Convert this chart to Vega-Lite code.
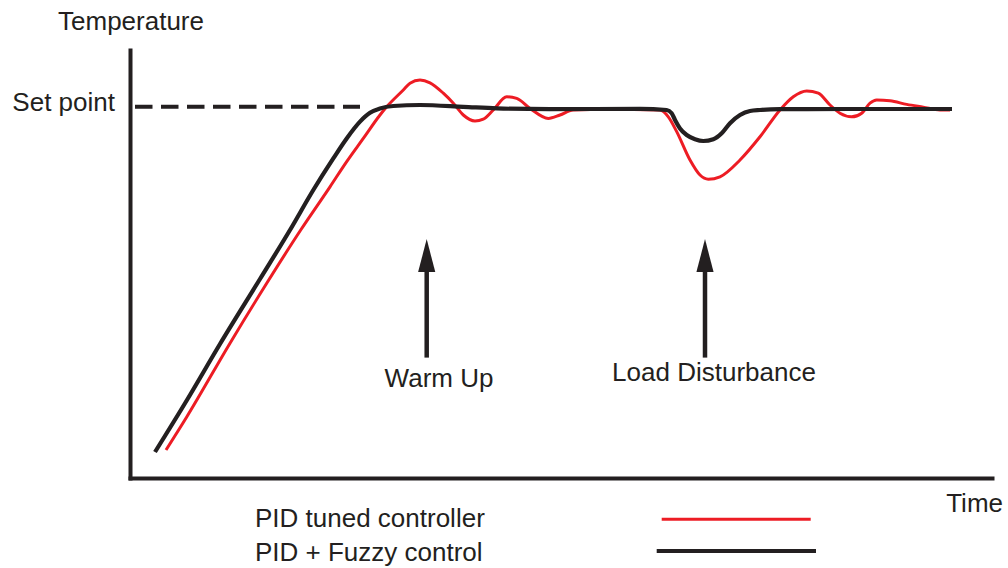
{
  "$schema": "https://vega.github.io/schema/vega-lite/v6.json",
  "width": 862,
  "height": 428,
  "autosize": {"type": "none"},
  "padding": {"left": 130, "top": 50, "right": 16, "bottom": 90},
  "background": "white",
  "config": {
    "view": {"stroke": null},
    "font": "Liberation Sans",
    "axis": {"domain": true, "domainColor": "#231f20", "domainWidth": 4, "domainCap": "square", "ticks": false, "labels": false, "grid": false}
  },
  "datasets": {
    "curves": [
      {"series": "PID tuned controller", "t": 3.6, "T": 7.0},
      {"series": "PID tuned controller", "t": 5.67, "T": 15.25},
      {"series": "PID tuned controller", "t": 10.0, "T": 33.7},
      {"series": "PID tuned controller", "t": 13.5, "T": 48.0},
      {"series": "PID tuned controller", "t": 17.07, "T": 62.0},
      {"series": "PID tuned controller", "t": 20.0, "T": 72.8},
      {"series": "PID tuned controller", "t": 21.67, "T": 79.1},
      {"series": "PID tuned controller", "t": 23.33, "T": 84.9},
      {"series": "PID tuned controller", "t": 25.0, "T": 90.75},
      {"series": "PID tuned controller", "t": 25.67, "T": 92.8},
      {"series": "PID tuned controller", "t": 27.33, "T": 97.0},
      {"series": "PID tuned controller", "t": 28.0, "T": 98.7},
      {"series": "PID tuned controller", "t": 29.0, "T": 99.5},
      {"series": "PID tuned controller", "t": 30.0, "T": 98.8},
      {"series": "PID tuned controller", "t": 31.33, "T": 96.2},
      {"series": "PID tuned controller", "t": 32.33, "T": 93.7},
      {"series": "PID tuned controller", "t": 33.33, "T": 90.75},
      {"series": "PID tuned controller", "t": 34.5, "T": 89.25},
      {"series": "PID tuned controller", "t": 35.33, "T": 89.7},
      {"series": "PID tuned controller", "t": 36.33, "T": 92.0},
      {"series": "PID tuned controller", "t": 37.67, "T": 95.3},
      {"series": "PID tuned controller", "t": 38.67, "T": 94.9},
      {"series": "PID tuned controller", "t": 40.0, "T": 92.4},
      {"series": "PID tuned controller", "t": 41.83, "T": 89.9},
      {"series": "PID tuned controller", "t": 43.0, "T": 90.75},
      {"series": "PID tuned controller", "t": 44.3, "T": 92.0},
      {"series": "PID tuned controller", "t": 47.67, "T": 92.2},
      {"series": "PID tuned controller", "t": 53.0, "T": 92.0},
      {"series": "PID tuned controller", "t": 53.83, "T": 90.3},
      {"series": "PID tuned controller", "t": 54.67, "T": 86.6},
      {"series": "PID tuned controller", "t": 56.0, "T": 79.5},
      {"series": "PID tuned controller", "t": 57.0, "T": 75.75},
      {"series": "PID tuned controller", "t": 57.83, "T": 74.7},
      {"series": "PID tuned controller", "t": 59.0, "T": 75.3},
      {"series": "PID tuned controller", "t": 61.0, "T": 79.5},
      {"series": "PID tuned controller", "t": 63.0, "T": 85.3},
      {"series": "PID tuned controller", "t": 65.0, "T": 92.0},
      {"series": "PID tuned controller", "t": 66.33, "T": 95.3},
      {"series": "PID tuned controller", "t": 67.67, "T": 96.75},
      {"series": "PID tuned controller", "t": 68.83, "T": 96.2},
      {"series": "PID tuned controller", "t": 70.0, "T": 93.25},
      {"series": "PID tuned controller", "t": 71.0, "T": 91.2},
      {"series": "PID tuned controller", "t": 72.17, "T": 90.3},
      {"series": "PID tuned controller", "t": 73.17, "T": 91.2},
      {"series": "PID tuned controller", "t": 74.0, "T": 93.7},
      {"series": "PID tuned controller", "t": 74.67, "T": 94.5},
      {"series": "PID tuned controller", "t": 76.0, "T": 94.3},
      {"series": "PID tuned controller", "t": 77.67, "T": 93.4},
      {"series": "PID tuned controller", "t": 79.33, "T": 92.7},
      {"series": "PID tuned controller", "t": 81.0, "T": 92.0},
      {"series": "PID tuned controller", "t": 82.0, "T": 92.0},
      {"series": "PID + Fuzzy control", "t": 2.5, "T": 6.5},
      {"series": "PID + Fuzzy control", "t": 5.7, "T": 19.5},
      {"series": "PID + Fuzzy control", "t": 9.0, "T": 33.5},
      {"series": "PID + Fuzzy control", "t": 13.0, "T": 49.75},
      {"series": "PID + Fuzzy control", "t": 16.0, "T": 62.0},
      {"series": "PID + Fuzzy control", "t": 18.33, "T": 72.0},
      {"series": "PID + Fuzzy control", "t": 20.33, "T": 79.9},
      {"series": "PID + Fuzzy control", "t": 21.67, "T": 84.9},
      {"series": "PID + Fuzzy control", "t": 23.0, "T": 89.1},
      {"series": "PID + Fuzzy control", "t": 24.0, "T": 91.3},
      {"series": "PID + Fuzzy control", "t": 25.0, "T": 92.4},
      {"series": "PID + Fuzzy control", "t": 26.33, "T": 93.0},
      {"series": "PID + Fuzzy control", "t": 29.0, "T": 93.25},
      {"series": "PID + Fuzzy control", "t": 33.33, "T": 92.8},
      {"series": "PID + Fuzzy control", "t": 36.67, "T": 92.4},
      {"series": "PID + Fuzzy control", "t": 42.0, "T": 92.2},
      {"series": "PID + Fuzzy control", "t": 51.0, "T": 92.3},
      {"series": "PID + Fuzzy control", "t": 53.67, "T": 92.0},
      {"series": "PID + Fuzzy control", "t": 54.17, "T": 91.2},
      {"series": "PID + Fuzzy control", "t": 54.5, "T": 89.5},
      {"series": "PID + Fuzzy control", "t": 55.0, "T": 87.4},
      {"series": "PID + Fuzzy control", "t": 55.67, "T": 85.75},
      {"series": "PID + Fuzzy control", "t": 56.5, "T": 84.7},
      {"series": "PID + Fuzzy control", "t": 57.33, "T": 84.25},
      {"series": "PID + Fuzzy control", "t": 58.33, "T": 84.7},
      {"series": "PID + Fuzzy control", "t": 59.17, "T": 86.2},
      {"series": "PID + Fuzzy control", "t": 60.0, "T": 88.7},
      {"series": "PID + Fuzzy control", "t": 61.0, "T": 90.75},
      {"series": "PID + Fuzzy control", "t": 62.0, "T": 91.75},
      {"series": "PID + Fuzzy control", "t": 63.0, "T": 92.0},
      {"series": "PID + Fuzzy control", "t": 65.0, "T": 92.2},
      {"series": "PID + Fuzzy control", "t": 72.0, "T": 92.25},
      {"series": "PID + Fuzzy control", "t": 82.2, "T": 92.25}
    ],
    "setpoint": [{"t": 0.5, "t2": 23.0, "T": 92.8}],
    "arrows": [
      {"label": "Warm Up", "t": 29.67, "T": 30.1, "T2": 52.5, "Th": 55.6},
      {"label": "Load Disturbance", "t": 57.5, "T": 30.1, "T2": 52.5, "Th": 55.6}
    ],
    "labelsCenter": [
      {"label": "Temperature", "t": 0.1, "T": 112.0},
      {"label": "Warm Up", "t": 30.9, "T": 22.8},
      {"label": "Load Disturbance", "t": 58.4, "T": 24.3}
    ],
    "labelsRight": [
      {"label": "Set point", "t": -1.5, "T": 91.7},
      {"label": "Time", "t": 87.3, "T": -8.4}
    ],
    "labelsLeft": [
      {"label": "PID tuned controller", "t": 12.5, "T": -12.2},
      {"label": "PID + Fuzzy control", "t": 12.5, "T": -20.75}
    ],
    "legendLines": [
      {"series": "PID tuned controller", "t": 53.17, "t2": 68.07, "T": -10.3},
      {"series": "PID + Fuzzy control", "t": 52.67, "t2": 68.6, "T": -18.25}
    ]
  },
  "encoding": {
    "x": {"field": "t", "type": "quantitative", "scale": {"domain": [0, 86.2], "nice": false, "zero": false}, "title": null},
    "y": {"field": "T", "type": "quantitative", "scale": {"domain": [0, 107], "nice": false, "zero": false}, "title": null}
  },
  "layer": [
    {
      "data": {"name": "setpoint"},
      "mark": {"type": "rule", "strokeDash": [17.5, 8.5], "strokeWidth": 4, "color": "#231f20"},
      "encoding": {"x2": {"field": "t2"}}
    },
    {
      "data": {"name": "curves"},
      "transform": [{"filter": "datum.series === 'PID tuned controller'"}],
      "mark": {"type": "line", "interpolate": "monotone", "strokeJoin": "round"},
      "encoding": {
        "color": {"field": "series", "type": "nominal", "scale": {"domain": ["PID tuned controller", "PID + Fuzzy control"], "range": ["#ed1c24", "#231f20"]}, "legend": null},
        "strokeWidth": {"field": "series", "type": "nominal", "scale": {"domain": ["PID tuned controller", "PID + Fuzzy control"], "range": [3, 4.2]}, "legend": null}
      }
    },
    {
      "data": {"name": "curves"},
      "transform": [{"filter": "datum.series === 'PID + Fuzzy control'"}],
      "mark": {"type": "line", "interpolate": "monotone", "strokeJoin": "round"},
      "encoding": {
        "color": {"field": "series", "type": "nominal", "scale": {"domain": ["PID tuned controller", "PID + Fuzzy control"], "range": ["#ed1c24", "#231f20"]}, "legend": null},
        "strokeWidth": {"field": "series", "type": "nominal", "scale": {"domain": ["PID tuned controller", "PID + Fuzzy control"], "range": [3, 4.2]}, "legend": null}
      }
    },
    {
      "data": {"name": "arrows"},
      "mark": {"type": "rule", "strokeWidth": 4.5, "color": "#231f20"},
      "encoding": {"y2": {"field": "T2"}}
    },
    {
      "data": {"name": "arrows"},
      "mark": {"type": "point", "filled": true, "opacity": 1, "color": "#231f20", "strokeWidth": 0, "size": 1089, "shape": "M0,-1L0.52,1L-0.52,1Z"},
      "encoding": {"y": {"field": "Th", "type": "quantitative", "scale": {"domain": [0, 107], "nice": false, "zero": false}, "title": null}}
    },
    {
      "data": {"name": "legendLines"},
      "mark": {"type": "rule"},
      "encoding": {
        "x2": {"field": "t2"},
        "color": {"field": "series", "type": "nominal", "scale": {"domain": ["PID tuned controller", "PID + Fuzzy control"], "range": ["#ed1c24", "#231f20"]}, "legend": null},
        "strokeWidth": {"field": "series", "type": "nominal", "scale": {"domain": ["PID tuned controller", "PID + Fuzzy control"], "range": [3, 4.2]}, "legend": null}
      }
    },
    {
      "data": {"name": "labelsCenter"},
      "mark": {"type": "text", "align": "center", "baseline": "alphabetic", "fontSize": 26, "color": "#231f20"},
      "encoding": {"text": {"field": "label"}}
    },
    {
      "data": {"name": "labelsRight"},
      "mark": {"type": "text", "align": "right", "baseline": "alphabetic", "fontSize": 26, "color": "#231f20"},
      "encoding": {"text": {"field": "label"}}
    },
    {
      "data": {"name": "labelsLeft"},
      "mark": {"type": "text", "align": "left", "baseline": "alphabetic", "fontSize": 26, "color": "#231f20"},
      "encoding": {"text": {"field": "label"}}
    }
  ]
}
